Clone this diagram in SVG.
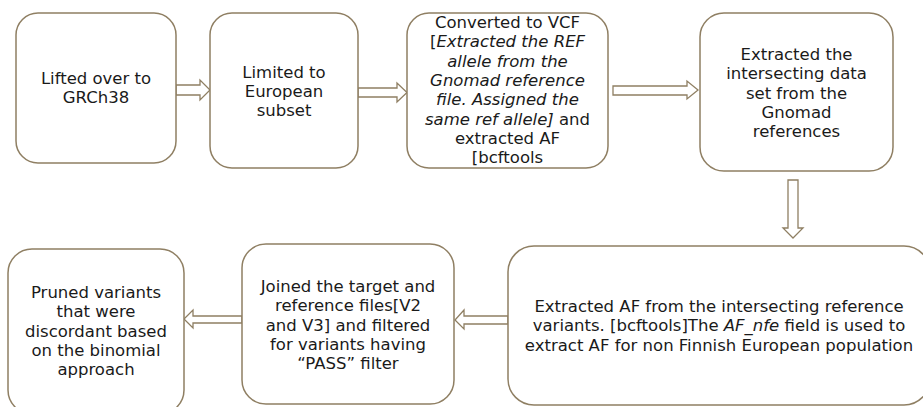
<svg xmlns="http://www.w3.org/2000/svg" width="923" height="407" viewBox="0 0 923 407">
<style>
.box{fill:#fff;stroke:#8f7f63;stroke-width:1.5}
.arr{fill:#fff;stroke:#8f7f63;stroke-width:1.3;stroke-linejoin:miter}
text{font-family:"DejaVu Sans",sans-serif;font-size:16.5px;fill:#1a1a1a;text-anchor:middle}
.i{font-style:italic}
</style>
<rect width="923" height="407" fill="#fff"/>
<g id="connectors">
<polygon class="arr" points="176,85 200,85 200,80 210,90 200,100 200,95 176,95"/>
<polygon class="arr" points="358,88 397,88 397,83 407,92.5 397,102 397,97 358,97"/>
<polygon class="arr" points="613,86 687,86 687,81 698,90 687,99 687,95 613,95"/>
<polygon class="arr" points="788,180 798,180 798,228 803,228 793,238 783,228 788,228"/>
<polygon class="arr" points="508,316 464,316 464,310 455,320 464,329 464,324 508,324"/>
<polygon class="arr" points="242,316 193,316 193,310 184,319 193,328 193,323 242,323"/>
</g>
<g id="n1">
<rect class="box" x="16" y="13" width="160" height="150" rx="22"/>
<text><tspan x="96" y="84">Lifted over to</tspan><tspan x="96" y="103">GRCh38</tspan></text>
</g>
<g id="n2">
<rect class="box" x="210" y="13" width="148" height="155" rx="22"/>
<text><tspan x="284" y="78">Limited to</tspan><tspan x="284" y="97">European</tspan><tspan x="284" y="116">subset</tspan></text>
</g>
<g id="n3">
<rect class="box" x="407" y="13" width="201" height="155" rx="22"/>
<text><tspan x="507.5" y="28">Converted to VCF</tspan><tspan x="507.5" y="47.3">[<tspan class="i">Extracted the REF</tspan></tspan><tspan x="507.5" y="66.6" class="i">allele from the</tspan><tspan x="507.5" y="85.9" class="i">Gnomad reference</tspan><tspan x="507.5" y="105.2" class="i">file. Assigned the</tspan><tspan x="507.5" y="124.5"><tspan class="i">same ref allele]</tspan> and</tspan><tspan x="507.5" y="143.8">extracted AF</tspan><tspan x="507.5" y="163.1">[bcftools</tspan></text>
</g>
<g id="n4">
<rect class="box" x="700" y="13" width="193" height="158" rx="24"/>
<text><tspan x="796.5" y="60">Extracted the</tspan><tspan x="796.5" y="79.3">intersecting data</tspan><tspan x="796.5" y="98.6">set from the</tspan><tspan x="796.5" y="117.9">Gnomad</tspan><tspan x="796.5" y="137.2">references</tspan></text>
</g>
<g id="n5">
<rect class="box" x="508" y="246" width="422" height="159" rx="26"/>
<text><tspan x="719" y="312">Extracted AF from the intersecting reference</tspan><tspan x="719" y="331.3">variants. [bcftools]The <tspan class="i">AF_nfe</tspan> field is used to</tspan><tspan x="719" y="350.6">extract AF for non Finnish European population</tspan></text>
</g>
<g id="n6">
<rect class="box" x="242" y="244" width="212" height="160" rx="24"/>
<text><tspan x="348" y="292">Joined the target and</tspan><tspan x="348" y="311.3">reference files[V2</tspan><tspan x="348" y="330.6">and V3] and filtered</tspan><tspan x="348" y="349.9">for variants having</tspan><tspan x="348" y="369.2">“PASS” filter</tspan></text>
</g>
<g id="n7">
<rect class="box" x="8" y="249" width="176" height="165" rx="24"/>
<text><tspan x="96" y="298">Pruned variants</tspan><tspan x="96" y="317.3">that were</tspan><tspan x="96" y="336.6">discordant based</tspan><tspan x="96" y="355.9">on the binomial</tspan><tspan x="96" y="375.2">approach</tspan></text>
</g>
</svg>
